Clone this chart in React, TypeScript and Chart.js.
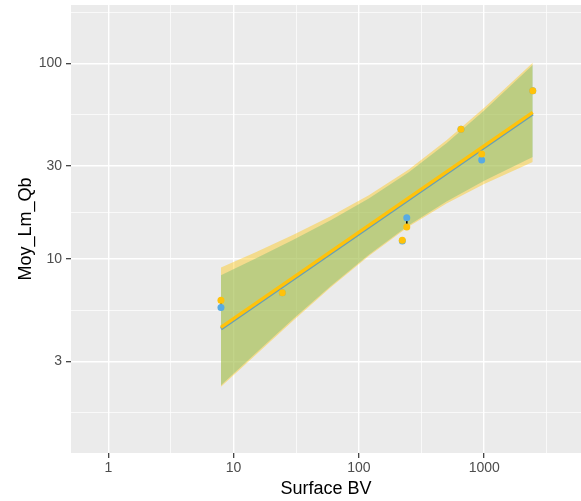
import React, { useEffect, useRef } from 'react';
import { Chart, registerables } from 'chart.js';

Chart.register(...registerables);

// Observed points (Surface BV vs Moy_Lm_Qb), two series
const pointSurfaceBV = [7.93, 24.5, 222, 241, 653, 955, 2440];
const yellowQb = [6.17, 6.73, 12.5, 14.62, 46.1, 34.4, 72.4];
const blueQb = [5.66, 6.73, 12.4, 16.26, 46.1, 32.1, 72.4];

// Confidence bands
const bandSurfaceBV = [7.93, 15, 30, 60, 120, 250, 500, 1000, 2440];
const yellowUpper = [9.06, 10.85, 13.31, 16.61, 21.21, 28.73, 40.43, 59.25, 100.6];
const yellowLower = [2.23, 3.24, 4.87, 7.2, 10.39, 14.69, 19.26, 24.23, 31.38];
const blueUpper = [8.29, 10.09, 12.56, 15.85, 20.4, 27.77, 39.1, 57.45, 98.2];
const blueLower = [2.27, 3.31, 4.96, 7.31, 10.54, 14.92, 19.72, 25.12, 33.24];

// Fitted lines (straight in log-log space)
const fitSurfaceBV = [7.93, 2440];
const yellowFit = [4.49, 56.2];
const blueFit = [4.41, 55.2];

// Axis ticks
const xMajorTicks = [1, 10, 100, 1000];
const xMinorTicks = [3.162, 31.62, 316.2, 3162];
const yMajorTicks = [3, 10, 30, 100];
const yMinorTicks = [1.643, 5.48, 17.34, 54.8, 182.6];
const xLimits = [0.504, 5923];
const yLimits = [1.024, 198.6];

const xTitle = 'Surface BV';
const yTitle = 'Moy_Lm_Qb';

const FONT = '"Liberation Sans", Arial, sans-serif';
const YELLOW = '#FFC20A';
const BLUE = '#58ABE3';

const pts = (xs: number[], ys: number[]) => xs.map((x, i) => ({ x, y: ys[i] }));

export default function App() {
  const ref = useRef<HTMLCanvasElement>(null);

  useEffect(() => {
    if (!ref.current) return;
    Chart.defaults.font.family = FONT;

    const xMajorSet = new Set(xMajorTicks);
    const yMajorSet = new Set(yMajorTicks);

    const bg = {
      id: 'bg',
      beforeDraw(chart: any) {
        const { ctx, chartArea: a } = chart;
        ctx.save();
        ctx.fillStyle = '#FFFFFF';
        ctx.fillRect(0, 0, chart.width, chart.height);
        ctx.fillStyle = '#EBEBEB';
        ctx.fillRect(a.left, a.top, a.right - a.left, a.bottom - a.top);
        ctx.restore();
      },
    };

    const titles = {
      id: 'titles',
      afterDraw(chart: any) {
        const { ctx, chartArea: a } = chart;
        ctx.save();
        ctx.fillStyle = '#000000';
        ctx.font = '18px ' + FONT;
        ctx.textAlign = 'center';
        ctx.textBaseline = 'alphabetic';
        ctx.fillText(xTitle, (a.left + a.right) / 2, 494);
        ctx.translate(31, (a.top + a.bottom) / 2);
        ctx.rotate(-Math.PI / 2);
        ctx.fillText(yTitle, 0, 0);
        ctx.restore();
      },
    };

    const segmentSets = pointSurfaceBV
      .map((x, i) => ({ x, b: blueQb[i], yv: yellowQb[i] }))
      .filter((p) => p.b !== p.yv)
      .map((p) => ({
        label: 'seg',
        data: [{ x: p.x, y: p.b }, { x: p.x, y: p.yv }],
        borderColor: '#000000',
        borderWidth: 1,
        pointRadius: 0,
        fill: false,
        order: 3,
      }));

    const chart = new Chart(ref.current, {
      type: 'line',
      data: {
        datasets: [
          {
            label: 'blueLower',
            data: pts(bandSurfaceBV, blueLower),
            borderWidth: 0,
            borderColor: 'rgba(0,0,0,0)',
            pointRadius: 0,
            fill: false,
            order: 10,
          },
          {
            label: 'blueUpper',
            data: pts(bandSurfaceBV, blueUpper),
            borderWidth: 0,
            borderColor: 'rgba(0,0,0,0)',
            backgroundColor: 'rgba(30,185,195,0.45)',
            pointRadius: 0,
            fill: 0,
            order: 9,
          },
          {
            label: 'yellowLower',
            data: pts(bandSurfaceBV, yellowLower),
            borderWidth: 0,
            borderColor: 'rgba(0,0,0,0)',
            pointRadius: 0,
            fill: false,
            order: 8,
          },
          {
            label: 'yellowUpper',
            data: pts(bandSurfaceBV, yellowUpper),
            borderWidth: 0,
            borderColor: 'rgba(0,0,0,0)',
            backgroundColor: 'rgba(255,196,0,0.4)',
            pointRadius: 0,
            fill: 2,
            order: 7,
          },
          {
            label: 'blueFit',
            data: pts(fitSurfaceBV, blueFit),
            borderColor: 'rgba(88,150,190,0.85)',
            borderWidth: 3.2,
            pointRadius: 0,
            fill: false,
            order: 6,
          },
          {
            label: 'yellowFit',
            data: pts(fitSurfaceBV, yellowFit),
            borderColor: YELLOW,
            borderWidth: 3.4,
            pointRadius: 0,
            fill: false,
            order: 5,
          },
          ...segmentSets,
          {
            label: 'bluePoints',
            data: pts(pointSurfaceBV, blueQb),
            showLine: false,
            pointRadius: 3.5,
            pointBorderWidth: 0,
            pointBackgroundColor: BLUE,
            borderColor: BLUE,
            fill: false,
            order: 2,
          },
          {
            label: 'yellowPoints',
            data: pts(pointSurfaceBV, yellowQb),
            showLine: false,
            pointRadius: 3.5,
            pointBorderWidth: 0,
            pointBackgroundColor: YELLOW,
            borderColor: YELLOW,
            fill: false,
            order: 1,
          },
        ] as any,
      },
      options: {
        responsive: false,
        animation: false,
        devicePixelRatio: 1,
        layout: { autoPadding: false, padding: { left: 0, right: 0, top: 5, bottom: 0 } },
        plugins: {
          legend: { display: false },
          tooltip: { enabled: false },
        },
        elements: { line: { tension: 0 } },
        scales: {
          x: {
            type: 'logarithmic',
            min: xLimits[0],
            max: xLimits[1],
            afterBuildTicks: (scale: any) => {
              scale.ticks = [...xMajorTicks, ...xMinorTicks]
                .sort((a, b) => a - b)
                .map((v) => ({ value: v }));
            },
            afterFit: (scale: any) => {
              scale.height = 48;
              scale.paddingLeft = 0;
              scale.paddingRight = 0;
              scale.paddingTop = 0;
              scale.paddingBottom = 0;
            },
            border: { display: false },
            grid: {
              color: '#FFFFFF',
              lineWidth: (ctx: any) => (ctx.tick && xMajorSet.has(ctx.tick.value) ? 1.4 : 0.7),
              tickColor: (ctx: any) => (ctx.tick && xMajorSet.has(ctx.tick.value) ? '#333333' : 'rgba(0,0,0,0)'),
              tickLength: 5,
              tickWidth: 1.2,
            },
            ticks: {
              autoSkip: false,
              maxRotation: 0,
              padding: 2,
              color: '#4D4D4D',
              font: { size: 14, family: FONT },
              callback: (v: any) => (xMajorSet.has(Number(v)) ? String(v) : ''),
            },
          },
          y: {
            type: 'logarithmic',
            min: yLimits[0],
            max: yLimits[1],
            afterBuildTicks: (scale: any) => {
              scale.ticks = [...yMajorTicks, ...yMinorTicks]
                .sort((a, b) => a - b)
                .map((v) => ({ value: v }));
            },
            afterFit: (scale: any) => {
              scale.width = 71;
              scale.paddingLeft = 0;
              scale.paddingRight = 0;
              scale.paddingTop = 0;
              scale.paddingBottom = 0;
            },
            border: { display: false },
            grid: {
              color: '#FFFFFF',
              lineWidth: (ctx: any) => (ctx.tick && yMajorSet.has(ctx.tick.value) ? 1.4 : 0.7),
              tickColor: (ctx: any) => (ctx.tick && yMajorSet.has(ctx.tick.value) ? '#333333' : 'rgba(0,0,0,0)'),
              tickLength: 5,
              tickWidth: 1.2,
            },
            ticks: {
              autoSkip: false,
              padding: 4,
              color: '#4D4D4D',
              font: { size: 14, family: FONT },
              callback: (v: any) => (yMajorSet.has(Number(v)) ? String(v) : ''),
            },
          },
        },
      } as any,
      plugins: [bg, titles],
    });

    return () => chart.destroy();
  }, []);

  return (
    <div style={{ position: 'fixed', left: 0, top: 0, width: 581, height: 501 }}>
      <canvas ref={ref} width={581} height={501} style={{ display: 'block' }} />
    </div>
  );
}
